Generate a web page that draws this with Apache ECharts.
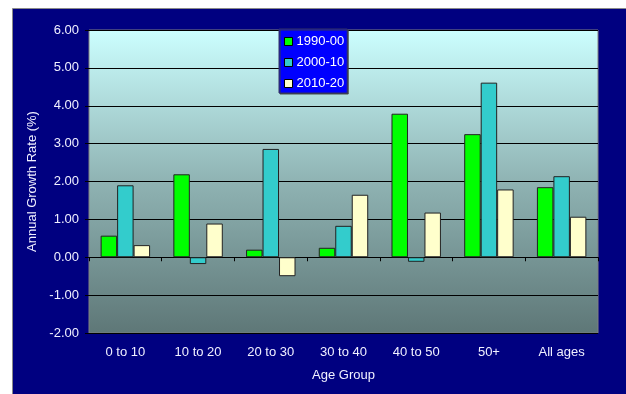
<!DOCTYPE html>
<html>
<head>
<meta charset="utf-8">
<script src="https://cdn.jsdelivr.net/npm/echarts@6/dist/echarts.min.js"></script>
<style>
  html, body { margin: 0; padding: 0; background: #ffffff; }
  #chart { width: 626px; height: 394px; }
</style>
</head>
<body>
<div id="chart"></div>
<script>
// Age groups along the x axis
const categories = ['0 to 10', '10 to 20', '20 to 30', '30 to 40', '40 to 50', '50+', 'All ages'];

// Annual growth rate (%) by decade
const s1990 = [0.57, 2.19, 0.20, 0.25, 3.79, 3.25, 1.85];
const s2000 = [1.90, -0.18, 2.86, 0.83, -0.12, 4.61, 2.14];
const s2010 = [0.32, 0.89, -0.50, 1.65, 1.18, 1.79, 1.07];

const seriesNames = ['1990-00', '2000-10', '2010-20'];
const seriesData = [s1990, s2000, s2010];
const seriesColors = ['#00ff00', '#33cccc', '#ffffcc'];

const FONT = 'Liberation Sans, Arial, sans-serif';
const TEXT = '#f0f0ff';

const chart = echarts.init(document.getElementById('chart'), null, { renderer: 'canvas' });

const option = {
  backgroundColor: '#ffffff',
  animation: false,
  textStyle: { fontFamily: FONT },
  graphic: [{
    type: 'rect',
    z: -10,
    shape: { x: 12.5, y: 8.5, width: 620, height: 400 },
    style: { fill: '#000080', stroke: '#8a8a8a', lineWidth: 1 }
  }],
  legend: {
    data: seriesNames,
    orient: 'vertical',
    left: 279,
    top: 29,
    padding: [6, 3, 3, 5],
    itemGap: 8,
    itemWidth: 8,
    itemHeight: 8,
    icon: 'rect',
    backgroundColor: '#0000ff',
    borderColor: '#333366',
    borderWidth: 1,
    shadowColor: 'rgba(60,60,60,0.9)',
    shadowOffsetX: 1,
    shadowOffsetY: 1,
    shadowBlur: 0,
    textStyle: { color: '#ffffff', fontSize: 13, fontFamily: FONT, padding: [0, 0, 0, -1] },
    itemStyle: { borderColor: '#000000', borderWidth: 1 }
  },
  grid: {
    left: 89,
    top: 30,
    width: 509,
    height: 303,
    show: true,
    borderColor: '#808080',
    borderWidth: 1,
    backgroundColor: new echarts.graphic.LinearGradient(0, 0, 0, 1, [
      { offset: 0, color: '#ccffff' },
      { offset: 0.5, color: '#8fb3b3' },
      { offset: 1, color: '#5e7777' }
    ])
  },
  xAxis: [{
    type: 'category',
    data: categories,
    position: 'bottom',
    axisLine: { show: false, onZero: false },
    axisTick: { show: false },
    axisLabel: { color: TEXT, fontSize: 13, fontFamily: FONT, margin: 13 },
    name: 'Age Group',
    nameLocation: 'middle',
    nameGap: 36,
    nameTextStyle: { color: TEXT, fontSize: 13, fontFamily: FONT }
  }, {
    type: 'category',
    data: categories,
    position: 'bottom',
    axisLine: { show: true, onZero: true, lineStyle: { color: '#000000', width: 1 } },
    axisTick: { show: true, inside: false, length: 4, lineStyle: { color: '#000000' } },
    axisLabel: { show: false }
  }],
  yAxis: {
    type: 'value',
    min: -2,
    max: 6,
    interval: 1,
    axisLine: { show: false },
    axisTick: { show: true, length: 4, lineStyle: { color: '#000000' } },
    axisLabel: {
      color: TEXT, fontSize: 13, fontFamily: FONT, margin: 10,
      formatter: v => v.toFixed(2)
    },
    splitLine: { show: true, lineStyle: { color: '#000000', width: 1 } },
    name: 'Annual Growth Rate (%)',
    nameLocation: 'middle',
    nameRotate: 90,
    nameGap: 35,
    nameTextStyle: { color: TEXT, fontSize: 13, fontFamily: FONT }
  },
  series: seriesNames.map((name, i) => ({
    name: name,
    type: 'bar',
    xAxisIndex: 0,
    data: seriesData[i],
    barGap: '0%',
    barCategoryGap: '32%',
    itemStyle: { color: seriesColors[i], borderColor: '#222222', borderWidth: 1 }
  }))
};

chart.setOption(option);
</script>
</body>
</html>
